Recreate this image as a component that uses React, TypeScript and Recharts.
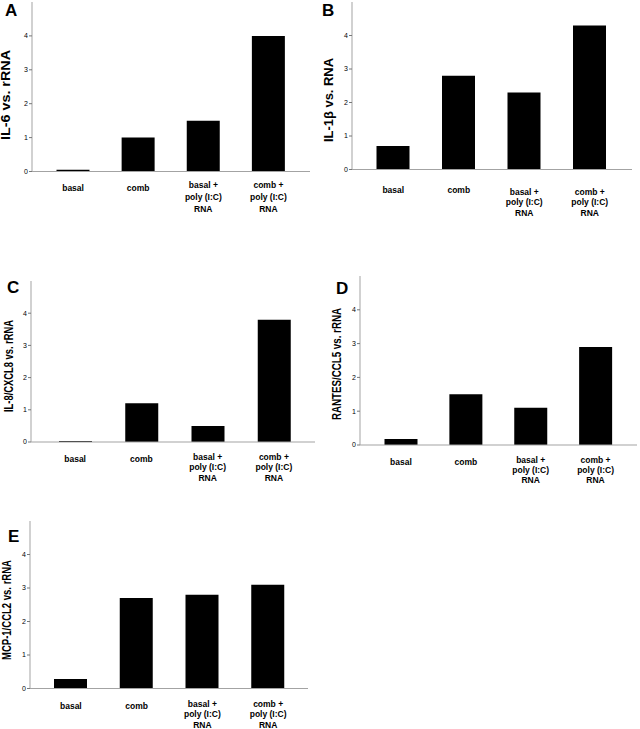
import React from 'react';
import { BarChart, Bar, XAxis, YAxis } from 'recharts';

// categories (line breaks as in the figure)
const categories = ['basal', 'comb', 'basal +\npoly (I:C)\nRNA', 'comb +\npoly (I:C)\nRNA'];

// expression relative to rRNA
const il6 = [0.05, 1.0, 1.5, 4.0];
const il1b = [0.7, 2.8, 2.3, 4.3];
const il8 = [0.03, 1.2, 0.5, 3.8];
const rantes = [0.18, 1.5, 1.1, 2.9];
const mcp1 = [0.28, 2.7, 2.8, 3.1];

const yTicks = [0, 1, 2, 3, 4];
const yMax = 4.5;

const FRAME = '#a3a3a3';
const FONT = '"Liberation Sans", Arial, Helvetica, sans-serif';
const Y_AXIS_W = 30;
const X_AXIS_H = 56;

type PanelDef = {
  letter: string;
  title: string;
  values: number[];
  left: number;
  right: number;
  top: number;
  zero: number;
  padL: number;
  padR: number;
  firstLine: number;
  lineGap: number;
  singleLine: number;
  letterX: number;
  letterY: number;
  titleX: number;
  titleY: number;
  titleLen: number;
};

const panels: PanelDef[] = [
  {
    letter: 'A', title: 'IL-6 vs. rRNA', values: il6,
    left: 32, right: 310, top: 1.5, zero: 171, padL: 8.5, padR: 9,
    firstLine: 13.3, lineGap: 12, singleLine: 16.7,
    letterX: 5, letterY: 16, titleX: 6, titleY: 95, titleLen: 90,
  },
  {
    letter: 'B', title: 'IL-1\u03b2 vs. RNA', values: il1b,
    left: 352, right: 632, top: 1.5, zero: 169, padL: 8.5, padR: 9.5,
    firstLine: 22, lineGap: 10.5, singleLine: 20.5,
    letterX: 322, letterY: 16, titleX: 328.5, titleY: 100, titleLen: 84,
  },
  {
    letter: 'C', title: 'IL-8/CXCL8 vs. rRNA', values: il8,
    left: 31, right: 315, top: 281, zero: 442, padL: 11, padR: 8,
    firstLine: 14.7, lineGap: 10.5, singleLine: 17,
    letterX: 7, letterY: 293, titleX: 8.5, titleY: 366, titleLen: 92,
  },
  {
    letter: 'D', title: 'RANTES/CCL5 vs. rRNA', values: rantes,
    left: 360, right: 637, top: 276, zero: 445, padL: 8.5, padR: 9,
    firstLine: 15, lineGap: 10.2, singleLine: 16.7,
    letterX: 336, letterY: 294, titleX: 337, titleY: 364, titleLen: 112,
  },
  {
    letter: 'E', title: 'MCP-1/CCL2 vs. rRNA', values: mcp1,
    left: 30, right: 308, top: 520.5, zero: 688, padL: 8, padR: 7,
    firstLine: 15.3, lineGap: 10.5, singleLine: 17,
    letterX: 8, letterY: 542, titleX: 7, titleY: 610, titleLen: 100,
  },
];

function CategoryTick(props: any) {
  const { x, y, payload, firstLine, lineGap, singleLine } = props;
  const lines = String(payload.value).split('\n');
  const start = lines.length > 1 ? firstLine : singleLine;
  return (
    <text x={x} y={y} textAnchor="middle" fontSize={8.5} fontWeight="bold" fill="#000" fontFamily={FONT}>
      {lines.map((line, i) => (
        <tspan key={i} x={x} y={y + start + 3 + i * lineGap}>
          {line}
        </tspan>
      ))}
    </text>
  );
}

function Panel({ p }: { p: PanelDef }) {
  const data = categories.map((name, i) => ({ name, value: p.values[i] }));
  const plotW = p.right - p.left;
  const plotH = p.zero - p.top;
  return (
    <div style={{ position: 'absolute', left: p.left - Y_AXIS_W, top: p.top - 1 }}>
      <BarChart
        width={Y_AXIS_W + plotW + 1}
        height={1 + plotH + X_AXIS_H}
        data={data}
        margin={{ top: 1, right: 1, bottom: 0, left: 0 }}
        barSize={33}
      >
        <XAxis
          dataKey="name"
          height={X_AXIS_H}
          interval={0}
          padding={{ left: p.padL, right: p.padR }}
          axisLine={{ stroke: FRAME }}
          tickLine={false}
          tickSize={0}
          tickMargin={0}
          tick={(tp: any) => (
            <CategoryTick {...tp} firstLine={p.firstLine} lineGap={p.lineGap} singleLine={p.singleLine} />
          )}
        />
        <XAxis
          xAxisId="top"
          orientation="top"
          dataKey="name"
          height={0}
          tick={false}
          tickLine={false}
          axisLine={{ stroke: FRAME }}
        />
        <YAxis
          width={Y_AXIS_W}
          domain={[0, yMax]}
          ticks={yTicks}
          allowDecimals={false}
          axisLine={{ stroke: FRAME }}
          tickLine={{ stroke: '#777' }}
          tickSize={3}
          tickMargin={1}
          tick={{ fontSize: 7, fill: '#000', fontFamily: FONT }}
        />
        <YAxis
          yAxisId="right"
          orientation="right"
          width={0}
          domain={[0, yMax]}
          tick={false}
          tickLine={false}
          axisLine={{ stroke: FRAME }}
        />
        <Bar dataKey="value" fill="#000" isAnimationActive={false} />
      </BarChart>
    </div>
  );
}

export default function App() {
  return (
    <div style={{ position: 'relative', width: 640, height: 729, background: '#fff', fontFamily: FONT }}>
      <style>{'body{margin:0}'}</style>
      {panels.map((p) => (
        <Panel key={p.letter} p={p} />
      ))}
      <svg
        width={640}
        height={729}
        style={{ position: 'absolute', left: 0, top: 0, pointerEvents: 'none' }}
      >
        {panels.map((p) => (
          <g key={p.letter}>
            <text x={p.letterX} y={p.letterY} fontSize={17} fontWeight="bold" fill="#000" fontFamily={FONT}>
              {p.letter}
            </text>
            <text
              x={p.titleX}
              y={p.titleY}
              transform={`rotate(-90 ${p.titleX} ${p.titleY})`}
              textAnchor="middle"
              dominantBaseline="central"
              fontSize={12}
              fontWeight="bold"
              fill="#000"
              fontFamily={FONT}
              textLength={p.titleLen}
              lengthAdjust="spacingAndGlyphs"
            >
              {p.title}
            </text>
          </g>
        ))}
      </svg>
    </div>
  );
}
